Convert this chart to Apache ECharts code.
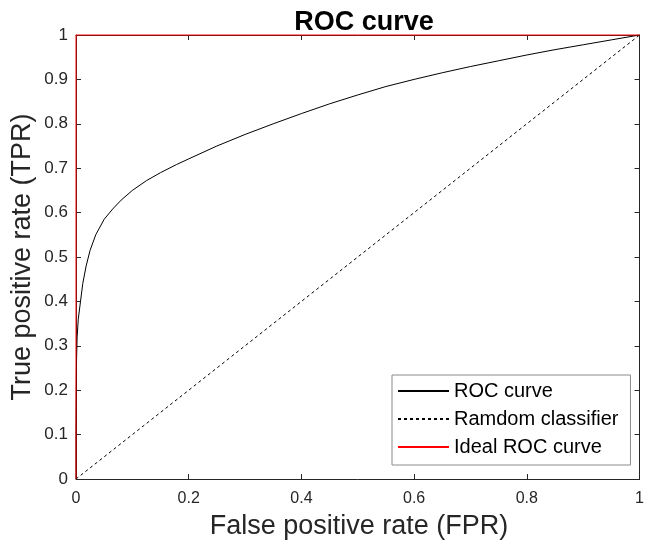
<!DOCTYPE html>
<html>
<head>
<meta charset="utf-8">
<title>ROC curve</title>
<script src="https://cdn.jsdelivr.net/npm/echarts@6/dist/echarts.min.js"></script>
<style>
  html, body { margin: 0; padding: 0; background: #fff; }
  #chart { width: 647px; height: 547px; }
</style>
</head>
<body>
<div id="chart"></div>
<script>
// False positive rate / true positive rate pairs of the classifier
const fpr = [0, 0, 0.0005, 0.001, 0.002, 0.004, 0.008, 0.012, 0.018, 0.025, 0.035, 0.05,
  0.065, 0.08, 0.1, 0.125, 0.15, 0.178, 0.2, 0.25, 0.3, 0.35, 0.4, 0.45, 0.5,
  0.55, 0.6, 0.65, 0.7, 0.75, 0.8, 0.85, 0.9, 0.95, 1];
const tpr = [0, 0.1, 0.2, 0.27, 0.32, 0.36, 0.40, 0.44, 0.48, 0.515, 0.55, 0.585,
  0.608, 0.628, 0.65, 0.672, 0.69, 0.708, 0.721, 0.75, 0.776, 0.80, 0.823, 0.845, 0.865,
  0.884, 0.90, 0.915, 0.929, 0.942, 0.955, 0.967, 0.978, 0.989, 1];

// Reference lines
const randomX = [0, 1];
const randomY = [0, 1];
const idealX = [0, 0, 1];
const idealY = [0, 1, 1];

const seriesNames = ['ROC curve', 'Ramdom classifier', 'Ideal ROC curve'];
const xTickStep = 0.2;
const yTickStep = 0.1;

const FONT = '"Liberation Sans", Arial, Helvetica, sans-serif';
const AXIS_COLOR = '#262626';

const zip = (xs, ys) => xs.map((x, i) => [x, ys[i]]);

const chart = echarts.init(document.getElementById('chart'), null, { renderer: 'canvas' });

const grid = { left: 76, right: 4, top: 35, bottom: 68 };

const mainAxisCommon = {
  type: 'value', min: 0, max: 1,
  axisLine: { show: true, lineStyle: { color: AXIS_COLOR, width: 1 } },
  axisTick: { show: true, inside: true, length: 5, lineStyle: { color: AXIS_COLOR, width: 1 } },
  splitLine: { show: false },
  axisLabel: { color: AXIS_COLOR, fontFamily: FONT, fontSize: 16 }
};

const mirrorAxisCommon = {
  type: 'value', min: 0, max: 1,
  axisLine: { show: true, onZero: false, lineStyle: { color: AXIS_COLOR, width: 1 } },
  axisTick: { show: true, inside: true, length: 5, lineStyle: { color: AXIS_COLOR, width: 1 } },
  splitLine: { show: false },
  axisLabel: { show: false }
};

const option = {
  animation: false,
  backgroundColor: '#ffffff',
  grid: grid,
  xAxis: [
    Object.assign({}, mainAxisCommon, {
      position: 'bottom', interval: xTickStep,
      axisLabel: Object.assign({}, mainAxisCommon.axisLabel, { margin: 12 })
    }),
    Object.assign({}, mirrorAxisCommon, { position: 'top', interval: xTickStep })
  ],
  yAxis: [
    Object.assign({}, mainAxisCommon, {
      position: 'left', interval: yTickStep,
      axisLabel: Object.assign({}, mainAxisCommon.axisLabel, { margin: 8, fontSize: 17 })
    }),
    Object.assign({}, mirrorAxisCommon, { position: 'right', interval: yTickStep })
  ],
  legend: {
    data: seriesNames,
    orient: 'vertical',
    left: 392,
    top: 375,
    padding: [6, 12, 8, 5],
    itemGap: 8,
    itemWidth: 51,
    itemHeight: 14,
    itemStyle: { opacity: 0 },
    backgroundColor: '#ffffff',
    borderColor: '#8c8c8c',
    borderWidth: 1,
    borderRadius: 0,
    textStyle: { fontFamily: FONT, fontSize: 20, color: '#000000' }
  },
  graphic: [
    {
      type: 'text', x: 364, y: 23,
      style: { text: 'ROC curve', font: 'bold 27px ' + FONT, fill: '#000000',
        textAlign: 'center', textVerticalAlign: 'middle' }
    },
    {
      type: 'text', x: 359, y: 527,
      style: { text: 'False positive rate (FPR)', font: '27px ' + FONT, fill: AXIS_COLOR,
        textAlign: 'center', textVerticalAlign: 'middle' }
    },
    {
      type: 'text', x: 23, y: 257, rotation: Math.PI / 2,
      style: { text: 'True positive rate (TPR)', font: '27px ' + FONT, fill: AXIS_COLOR,
        textAlign: 'center', textVerticalAlign: 'middle' }
    }
  ],
  series: [
    {
      name: seriesNames[0], type: 'line', xAxisIndex: 0, yAxisIndex: 0,
      data: zip(fpr, tpr),
      showSymbol: false, symbol: 'none',
      smooth: false,
      lineStyle: { color: '#000000', width: 1 },
      itemStyle: { color: '#000000' },
      z: 3
    },
    {
      name: seriesNames[1], type: 'line', xAxisIndex: 0, yAxisIndex: 0,
      data: zip(randomX, randomY),
      showSymbol: false, symbol: 'none',
      lineStyle: { color: '#000000', width: 1, type: [3, 3] },
      itemStyle: { color: '#000000' },
      z: 2
    },
    {
      name: seriesNames[2], type: 'line', xAxisIndex: 0, yAxisIndex: 0,
      data: zip(idealX, idealY),
      showSymbol: false, symbol: 'none', clip: false,
      lineStyle: { color: '#ff0000', width: 1 },
      itemStyle: { color: '#ff0000' },
      z: 4
    }
  ]
};

chart.setOption(option);
</script>
</body>
</html>
